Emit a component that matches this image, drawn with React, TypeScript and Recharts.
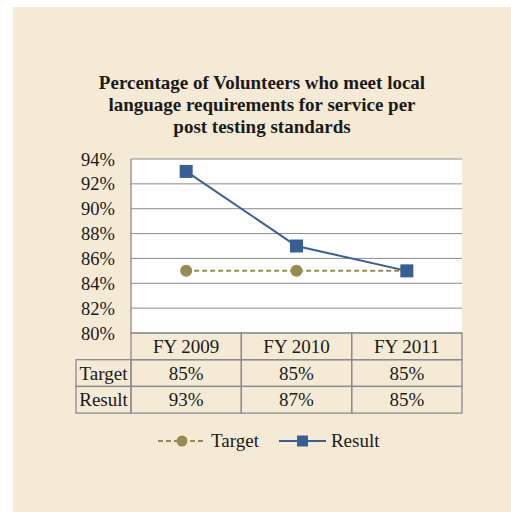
import React from "react";
import {
  LineChart,
  Line,
  XAxis,
  YAxis,
  CartesianGrid,
  Legend,
} from "recharts";

const categories = ["FY 2009", "FY 2010", "FY 2011"];
const targetValues = [85, 85, 85];
const resultValues = [93, 87, 85];
const yTicks = [80, 82, 84, 86, 88, 90, 92, 94];
const seriesNames = ["Target", "Result"];

const data = categories.map((c, i) => ({
  name: c,
  target: targetValues[i],
  result: resultValues[i],
}));

const FONT = "'Liberation Serif', 'Times New Roman', serif";
const BEIGE = "#F5EAD6";
const GRID = "#8c8c8c";
const TARGET_COLOR = "#968B54";
const RESULT_COLOR = "#385F94";

const W = 511;
const H = 512;
const PLOT_W = 331;
const ROW_H = 26.7;
const LABEL_W = 55;

// draws one column of the data table under each category tick
const TableTick = (props: any) => {
  const { x, y, payload, index } = props;
  const colW = PLOT_W / categories.length;
  const left = x - colW / 2;
  const rows = [payload.value, `${targetValues[index]}%`, `${resultValues[index]}%`];
  return (
    <g>
      {rows.map((txt, r) => (
        <g key={r}>
          <rect
            x={left}
            y={y + r * ROW_H}
            width={colW}
            height={ROW_H}
            fill="none"
            stroke={GRID}
            strokeWidth={1.3}
          />
          <text
            x={x}
            y={y + r * ROW_H + ROW_H / 2}
            dy="0.35em"
            textAnchor="middle"
            fontFamily={FONT}
            fontSize={19}
            fill="#1a1a1a"
          >
            {txt}
          </text>
        </g>
      ))}
      {index === 0 &&
        seriesNames.map((s, r) => (
          <g key={s}>
            <rect
              x={left - LABEL_W}
              y={y + (r + 1) * ROW_H}
              width={LABEL_W}
              height={ROW_H}
              fill="none"
              stroke={GRID}
              strokeWidth={1.3}
            />
            <text
              x={left - LABEL_W / 2}
              y={y + (r + 1) * ROW_H + ROW_H / 2}
              dy="0.35em"
              textAnchor="middle"
              fontFamily={FONT}
              fontSize={19}
              fill="#1a1a1a"
            >
              {s}
            </text>
          </g>
        ))}
    </g>
  );
};

const SquareDot = (props: any) => {
  const { cx, cy } = props;
  if (cx == null || cy == null) return null;
  return <rect x={cx - 6.5} y={cy - 6.5} width={13} height={13} fill={RESULT_COLOR} />;
};

const renderLegend = () => (
  <div style={{ display: "flex", paddingLeft: 158, fontFamily: FONT, fontSize: 19, color: "#1a1a1a" }}>
    <div style={{ display: "flex", alignItems: "center", marginRight: 20 }}>
      <svg width={46} height={14} style={{ marginRight: 7 }}>
        <line x1={0} y1={7} x2={46} y2={7} stroke={TARGET_COLOR} strokeWidth={2} strokeDasharray="5 3" />
        <circle cx={24} cy={7} r={5.5} fill={TARGET_COLOR} />
      </svg>
      <span>{seriesNames[0]}</span>
    </div>
    <div style={{ display: "flex", alignItems: "center" }}>
      <svg width={47} height={14} style={{ marginRight: 5 }}>
        <line x1={0} y1={7} x2={47} y2={7} stroke={RESULT_COLOR} strokeWidth={2} />
        <rect x={18} y={1.5} width={11} height={11} fill={RESULT_COLOR} />
      </svg>
      <span>{seriesNames[1]}</span>
    </div>
  </div>
);

export default function App() {
  return (
    <div style={{ position: "absolute", left: 0, top: 0, width: W, height: H, background: "#fff" }}>
      <div style={{ position: "absolute", left: 13, top: 7, right: 0, bottom: 0, background: BEIGE }} />
      <div
        style={{
          position: "absolute",
          left: 13,
          top: 72,
          width: 498,
          textAlign: "center",
          fontFamily: FONT,
          fontWeight: "bold",
          fontSize: 19,
          lineHeight: "22px",
          color: "#1a1a1a",
        }}
      >
        Percentage of Volunteers who meet local
        <br />
        language requirements for service per
        <br />
        post testing standards
      </div>
      <div style={{ position: "absolute", left: 0, top: 0 }}>
        <LineChart
          width={W}
          height={H}
          data={data}
          margin={{ top: 159, right: 49, left: 76, bottom: 99 }}
        >
          <CartesianGrid vertical={false} stroke={GRID} fill="#fff" fillOpacity={1} />
          <XAxis
            dataKey="name"
            scale="band"
            height={80}
            axisLine={false}
            tickLine={false}
            tickSize={0}
            tickMargin={0}
            interval={0}
            tick={<TableTick />}
          />
          <YAxis
            width={55}
            domain={[80, 94]}
            ticks={yTicks}
            interval={0}
            tickFormatter={(v: number) => `${v}%`}
            axisLine={{ stroke: GRID, strokeWidth: 1.3 }}
            tickLine={false}
            tickSize={0}
            tickMargin={16}
            tick={{ fontFamily: FONT, fontSize: 18.5, fill: "#1a1a1a" }}
          />
          <Legend
            verticalAlign="middle"
            align="center"
            layout="horizontal"
            content={renderLegend}
            wrapperStyle={{ top: 430, left: 0, width: W }}
          />
          <Line
            dataKey="target"
            name={seriesNames[0]}
            stroke={TARGET_COLOR}
            strokeWidth={2}
            strokeDasharray="5 3"
            dot={{ r: 6, fill: TARGET_COLOR, stroke: "none" }}
            isAnimationActive={false}
          />
          <Line
            dataKey="result"
            name={seriesNames[1]}
            stroke={RESULT_COLOR}
            strokeWidth={2}
            dot={<SquareDot />}
            isAnimationActive={false}
          />
        </LineChart>
      </div>
    </div>
  );
}
